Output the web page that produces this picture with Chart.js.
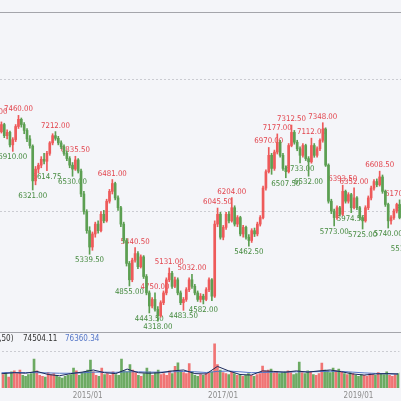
<!DOCTYPE html>
<html>
<head>
  <meta charset="utf-8">
  <title>Price and volume</title>
  <script src="https://cdn.jsdelivr.net/npm/chart.js@4"></script>
  <style>
    html, body {
      margin: 0;
      padding: 0;
      background-color: #f4f5f9;
    }

    #wrap {
      position: relative;
      width: 401px;
      height: 401px;
      overflow: hidden;
    }

    #priceChart {
      position: absolute;
      left: 0;
      top: 0;
    }

    #volumeChart {
      position: absolute;
      left: 0;
      top: 332px;
    }
  </style>
</head>
<body>
  <div id="wrap">
    <canvas id="priceChart" width="401" height="332"></canvas>
    <canvas id="volumeChart" width="401" height="69"></canvas>
  </div>

  <script>
    // half-month candles
    const dates = [
      '2013/08/01', '2013/08/16', '2013/09/01', '2013/09/16', '2013/10/01', '2013/10/16', '2013/11/01', '2013/11/16', '2013/12/01', '2013/12/16',
      '2014/01/01', '2014/01/16', '2014/02/01', '2014/02/16', '2014/03/01', '2014/03/16', '2014/04/01', '2014/04/16', '2014/05/01', '2014/05/16', '2014/06/01', '2014/06/16',
      '2014/07/01', '2014/07/16', '2014/08/01', '2014/08/16', '2014/09/01', '2014/09/16', '2014/10/01', '2014/10/16', '2014/11/01', '2014/11/16', '2014/12/01', '2014/12/16',
      '2015/01/01', '2015/01/16', '2015/02/01', '2015/02/16', '2015/03/01', '2015/03/16', '2015/04/01', '2015/04/16', '2015/05/01', '2015/05/16', '2015/06/01', '2015/06/16',
      '2015/07/01', '2015/07/16', '2015/08/01', '2015/08/16', '2015/09/01', '2015/09/16', '2015/10/01', '2015/10/16', '2015/11/01', '2015/11/16', '2015/12/01', '2015/12/16',
      '2016/01/01', '2016/01/16', '2016/02/01', '2016/02/16', '2016/03/01', '2016/03/16', '2016/04/01', '2016/04/16', '2016/05/01', '2016/05/16', '2016/06/01', '2016/06/16',
      '2016/07/01', '2016/07/16', '2016/08/01', '2016/08/16', '2016/09/01', '2016/09/16', '2016/10/01', '2016/10/16', '2016/11/01', '2016/11/16', '2016/12/01', '2016/12/16',
      '2017/01/01', '2017/01/16', '2017/02/01', '2017/02/16', '2017/03/01', '2017/03/16', '2017/04/01', '2017/04/16', '2017/05/01', '2017/05/16', '2017/06/01', '2017/06/16',
      '2017/07/01', '2017/07/16', '2017/08/01', '2017/08/16', '2017/09/01', '2017/09/16', '2017/10/01', '2017/10/16', '2017/11/01', '2017/11/16', '2017/12/01', '2017/12/16',
      '2018/01/01', '2018/01/16', '2018/02/01', '2018/02/16', '2018/03/01', '2018/03/16', '2018/04/01', '2018/04/16', '2018/05/01', '2018/05/16', '2018/06/01', '2018/06/16',
      '2018/07/01', '2018/07/16', '2018/08/01', '2018/08/16', '2018/09/01', '2018/09/16', '2018/10/01', '2018/10/16', '2018/11/01', '2018/11/16', '2018/12/01', '2018/12/16',
      '2019/01/01', '2019/01/16', '2019/02/01', '2019/02/16', '2019/03/01', '2019/03/16', '2019/04/01', '2019/04/16', '2019/05/01', '2019/05/16', '2019/06/01', '2019/06/16',
      '2019/07/01', '2019/07/16', '2019/08/01', '2019/08/16', '2019/09/01', '2019/09/16', '2019/10/01'
    ];

    const opens = [
      7260, 7300, 7350, 7280, 7210, 7320, 7150, 7200, 7010, 7090,
      7290, 7400, 7320, 7230, 7100, 6990, 6460, 6640, 6700, 6790, 6760, 6880, 7040, 7150, 7110, 7040, 6980, 6880, 6800, 6700, 6640, 6780, 6610, 6260,
      5990, 5700, 5450, 5650, 5800, 5700, 5950, 5850, 6150, 6300, 6420, 6200, 6050, 5800, 5550, 5200, 4950, 5250, 5350, 5150, 5300, 5000, 4750, 4550,
      4650, 4500, 4400, 4600, 4750, 4950, 5050, 4850, 4950, 4750, 4600, 4650, 4800, 4950, 4850, 4750, 4650, 4700, 4650, 4800, 4950, 4700, 5800, 5950,
      5600, 5750, 5950, 5850, 6050, 5800, 5900, 5650, 5750, 5600, 5550, 5700, 5650, 5800, 5900, 6350, 6600, 6850, 6650, 6900, 7050, 6850, 6650, 6600,
      7000, 7200, 7050, 6950, 6850, 7000, 6800, 6750, 7000, 6850, 6950, 7080, 7250, 6700, 6150, 6000, 5900, 6050, 5950, 6300, 6150, 6250, 6050, 6200,
      6050, 5900, 5850, 6050, 6200, 6350, 6450, 6400, 6520, 6300, 6100, 5850, 5900, 6000, 6100, 5900, 5650, 5700, 5850
    ];
    const highs = [
      7330, 7418, 7380, 7310, 7360, 7340, 7240, 7220, 7120, 7320,
      7460, 7420, 7350, 7260, 7150, 7010, 6680, 6730, 6830, 6880, 6910, 7060, 7180, 7212, 7140, 7070, 7010, 6920, 6830, 6740, 6835.5, 6800, 6640, 6300,
      6020, 5760, 5680, 5830, 5850, 5990, 6010, 6180, 6330, 6481, 6440, 6230, 6070, 5830, 5580, 5230, 5280, 5440.5, 5380, 5330, 5320, 5030, 4780, 4680,
      4750, 4540, 4630, 4780, 4980, 5131, 5080, 4990, 4980, 4780, 4680, 4830, 4980, 5032, 4880, 4780, 4740, 4730, 4830, 4980, 4970, 5850, 6045.5, 5980,
      5780, 5980, 5990, 6204, 6080, 5930, 5920, 5780, 5770, 5640, 5730, 5740, 5830, 5930, 6380, 6630, 6970, 6880, 6930, 7177, 7080, 6880, 6690, 7030,
      7312.5, 7230, 7080, 6980, 7030, 7020, 6830, 7112, 7030, 6980, 7100, 7348, 7270, 6720, 6180, 6030, 6080, 6070, 6393.5, 6320, 6280, 6270, 6352, 6220,
      6070, 5930, 6080, 6230, 6380, 6480, 6490, 6608.5, 6550, 6320, 6120, 5930, 6030, 6120, 6170, 5920, 5720, 5870, 5940
    ];
    const lows = [
      7220, 7260, 7250, 7180, 7190, 7120, 7100, 6980, 6910, 7060,
      7260, 7280, 7180, 7060, 6960, 6321, 6400, 6580, 6660, 6720, 6614.75, 6850, 7010, 7080, 7010, 6950, 6850, 6770, 6660, 6530, 6620, 6580, 6220, 5950,
      5660, 5339.5, 5400, 5600, 5660, 5680, 5820, 5830, 6120, 6260, 6170, 6010, 5760, 5510, 5160, 4855, 4920, 5220, 5120, 5130, 4970, 4720, 4443.5, 4520,
      4470, 4318, 4380, 4570, 4720, 4920, 4820, 4830, 4720, 4570, 4483.5, 4620, 4770, 4820, 4720, 4620, 4610, 4582, 4630, 4770, 4630, 4680, 5760, 5570,
      5560, 5720, 5820, 5830, 5770, 5760, 5620, 5600, 5570, 5462.5, 5520, 5610, 5620, 5770, 5880, 6320, 6580, 6560, 6620, 6870, 6820, 6620, 6507.5, 6580,
      6980, 7020, 6920, 6733, 6820, 6770, 6532, 6730, 6820, 6820, 6920, 7050, 6680, 6120, 5960, 5773, 5870, 5920, 5930, 6120, 6120, 5974.5, 6030, 6020,
      5870, 5725, 5830, 6020, 6170, 6320, 6370, 6380, 6270, 6070, 5740, 5800, 5870, 5970, 5880, 5620, 5510, 5680, 5770
    ];
    const closes = [
      7300, 7350, 7280, 7210, 7320, 7150, 7200, 7010, 7090, 7290,
      7400, 7320, 7230, 7100, 7000, 6460, 6640, 6700, 6790, 6760, 6880, 7040, 7150, 7110, 7040, 6980, 6880, 6800, 6700, 6640, 6780, 6610, 6260, 5990,
      5700, 5450, 5650, 5800, 5700, 5950, 5850, 6150, 6300, 6420, 6200, 6050, 5800, 5550, 5200, 4950, 5250, 5350, 5150, 5300, 5000, 4750, 4550, 4650,
      4500, 4400, 4600, 4750, 4950, 5050, 4850, 4950, 4750, 4600, 4650, 4800, 4950, 4850, 4750, 4650, 4700, 4650, 4800, 4950, 4700, 5800, 5950, 5600,
      5750, 5950, 5850, 6050, 5800, 5900, 5650, 5750, 5600, 5550, 5700, 5650, 5800, 5900, 6350, 6600, 6850, 6650, 6900, 7050, 6850, 6650, 6600, 7000,
      7200, 7050, 6950, 6850, 7000, 6800, 6750, 7000, 6850, 6950, 7080, 7250, 6700, 6150, 6000, 5900, 6050, 5950, 6300, 6150, 6250, 6050, 6200, 6050,
      5900, 5850, 6050, 6200, 6350, 6450, 6400, 6520, 6300, 6100, 5850, 5900, 6000, 6100, 5900, 5650, 5700, 5850, 5800
    ];
    const volumes = [
      75000, 70000, 65000, 80000, 75000, 85000, 60000, 90000, 95000, 80000,
      100000, 70000, 65000, 75000, 80000, 160000, 95000, 70000, 65000, 60000, 85000, 75000, 80000, 70000, 60000, 55000, 65000, 70000, 75000, 110000, 95000, 70000, 85000, 90000,
      100000, 155000, 90000, 70000, 65000, 110000, 75000, 80000, 70000, 90000, 75000, 70000, 160000, 95000, 90000, 130000, 100000, 85000, 70000, 65000, 80000, 110000, 90000, 70000,
      85000, 100000, 75000, 80000, 70000, 95000, 80000, 120000, 140000, 90000, 85000, 80000, 135000, 90000, 70000, 65000, 75000, 70000, 80000, 85000, 90000, 245000, 130000, 100000,
      85000, 80000, 75000, 90000, 80000, 70000, 75000, 65000, 70000, 80000, 70000, 65000, 75000, 80000, 122000, 95000, 100000, 105000, 85000, 90000, 80000, 85000, 90000, 95000,
      85000, 75000, 80000, 144000, 85000, 80000, 95000, 90000, 75000, 70000, 80000, 139000, 100000, 95000, 85000, 110000, 95000, 105000, 90000, 80000, 75000, 85000, 80000, 70000,
      65000, 75000, 70000, 65000, 80000, 75000, 70000, 85000, 80000, 75000, 90000, 70000, 65000, 75000, 80000, 85000, 90000, 70000, 75000
    ];

    // marked extremes
    const highMarks = [
      '2013/08/16', '2014/01/01', '2014/07/16', '2014/11/01', '2015/05/16', '2015/09/16', '2016/01/01', '2016/03/16',
      '2016/07/16', '2016/12/01', '2017/02/16', '2017/09/01', '2017/10/16', '2018/01/01', '2018/04/16', '2018/06/16',
      '2018/10/01', '2018/12/01', '2019/04/16', '2019/08/01', '2019/10/01'
    ];
    const lowMarks = [
      '2013/12/01', '2014/03/16', '2014/06/01', '2014/10/16', '2015/01/16', '2015/08/16', '2015/12/01', '2016/01/16',
      '2016/06/01', '2016/09/16', '2017/05/16', '2017/12/01', '2018/02/16', '2018/04/01', '2018/08/16', '2018/11/16',
      '2019/01/16', '2019/06/01', '2019/09/01'
    ];

    // volume averages
    const maDates = [
      '2013/08/01', '2013/10/01', '2013/12/01',
      '2014/02/01', '2014/04/01', '2014/06/01', '2014/08/01', '2014/10/01', '2014/12/01',
      '2015/02/01', '2015/04/01', '2015/06/01', '2015/08/01', '2015/10/01', '2015/12/01',
      '2016/02/01', '2016/04/01', '2016/06/01', '2016/08/01', '2016/10/01', '2016/12/01',
      '2017/02/01', '2017/04/01', '2017/06/01', '2017/08/01', '2017/10/01', '2017/12/01',
      '2018/02/01', '2018/04/01', '2018/06/01', '2018/08/01', '2018/10/01', '2018/12/01',
      '2019/02/01', '2019/04/01', '2019/06/01', '2019/08/01', '2019/10/01'
    ];
    const maShort = [
      78000, 80000, 85000,
      82000, 92000, 75000, 68000, 80000, 88000,
      100000, 85000, 80000, 105000, 85000, 82000,
      85000, 95000, 100000, 80000, 78000, 120000,
      95000, 75000, 72000, 95000, 92000, 88000,
      95000, 88000, 95000, 100000, 90000, 78000,
      72000, 78000, 80000, 78000, 74504.11
    ];
    const maLong = [
      85000, 85000, 86000,
      86000, 85000, 84000, 82000, 82000, 84000,
      88000, 88000, 87000, 90000, 90000, 88000,
      88000, 90000, 92000, 90000, 86000, 92000,
      94000, 90000, 85000, 86000, 88000, 88000,
      90000, 90000, 91000, 93000, 92000, 88000,
      84000, 81000, 79000, 77000, 76360.34
    ];
    const volumeTitle = 'VOL(10,50)';

    const tickLabels = ['2015/01', '2017/01', '2019/01'];
    const priceGrid = [6000, 8000];
    const volumeGrid = [200000];
    const firstShown = '2013/10/01';
    const lastShown = '2019/08/01';

    const UP = '#ee5a5a';
    const DOWN = '#5c9f52';
    const candleColors = dates.map((d, i) => closes[i] >= opens[i] ? UP : DOWN);
    const volumeColors = dates.map((d, i) => closes[i] >= opens[i] ? '#f07474' : '#6caa62');
    const FONT = "'DejaVu Sans Condensed', 'DejaVu Sans', sans-serif";

    Chart.defaults.font.family = FONT;
    Chart.defaults.font.size = 7.5;

    const zeroWidth = (scale) => { scale.width = 0; };

    // labels drawn under the candles
    const markPlugin = {
      id: 'marks',
      beforeDatasetsDraw(chart) {
        const { ctx, scales: { x, y } } = chart;
        ctx.save();
        ctx.font = '7.8px ' + FONT;
        ctx.textAlign = 'center';
        ctx.textBaseline = 'middle';
        highMarks.forEach((d) => {
          const i = dates.indexOf(d);
          ctx.fillStyle = '#e2434c';
          ctx.fillText(highs[i].toFixed(2), x.getPixelForValue(i), y.getPixelForValue(highs[i]) - 6);
        });
        lowMarks.forEach((d) => {
          const i = dates.indexOf(d);
          ctx.fillStyle = '#43893d';
          ctx.fillText(lows[i].toFixed(2), x.getPixelForValue(i), y.getPixelForValue(lows[i]) + 6);
        });
        ctx.restore();
      },
    };

    const topLine = {
      id: 'topLine',
      afterDraw(chart) {
        const { ctx, chartArea } = chart;
        ctx.save();
        ctx.strokeStyle = '#a4a5ab';
        ctx.lineWidth = 1;
        ctx.beginPath();
        ctx.moveTo(0, chartArea.top + 0.5);
        ctx.lineTo(chart.width, chartArea.top + 0.5);
        ctx.stroke();
        ctx.restore();
      },
    };

    const volumeHeader = {
      id: 'volumeHeader',
      afterDraw(chart) {
        const ctx = chart.ctx;
        ctx.save();
        ctx.font = '8px ' + FONT;
        ctx.textBaseline = 'middle';
        ctx.fillStyle = '#333333';
        ctx.textAlign = 'right';
        ctx.fillText(volumeTitle, 13.5, 7);
        ctx.textAlign = 'left';
        ctx.fillText(maShort[maShort.length - 1].toFixed(2), 23, 7);
        ctx.fillStyle = '#5577c8';
        ctx.fillText(maLong[maLong.length - 1].toFixed(2), 65, 7);
        ctx.restore();
      },
    };

    new Chart(document.getElementById('priceChart'), {
      type: 'bar',
      data: {
        labels: dates,
        datasets: [
          {
            data: dates.map((d, i) => [lows[i], highs[i]]),
            backgroundColor: candleColors,
            barThickness: 1,
            grouped: false,
            order: 2,
          },
          {
            data: dates.map((d, i) => [opens[i], closes[i]]),
            backgroundColor: candleColors,
            barThickness: 2,
            grouped: false,
            order: 1,
          },
        ],
      },
      options: {
        responsive: false,
        animation: false,
        layout: { padding: { top: 12, left: 0, right: 0, bottom: 0 } },
        plugins: { legend: { display: false }, tooltip: { enabled: false } },
        scales: {
          x: { display: false, min: firstShown, max: lastShown },
          y: {
            min: 4153,
            max: 9038,
            afterBuildTicks: (scale) => { scale.ticks = priceGrid.map((v) => ({ value: v })); },
            afterFit: zeroWidth,
            ticks: { display: false },
            grid: { drawTicks: false, color: '#cbccd2' },
            border: { display: false, dash: [2, 2] },
          },
        },
      },
      plugins: [markPlugin, topLine],
    });

    new Chart(document.getElementById('volumeChart'), {
      type: 'bar',
      data: {
        labels: dates,
        datasets: [
          {
            type: 'line',
            data: maDates.map((d, i) => ({ x: d, y: maShort[i] })),
            borderColor: '#1c2a5c',
            borderWidth: 1,
            pointRadius: 0,
            order: 0,
          },
          {
            type: 'line',
            data: maDates.map((d, i) => ({ x: d, y: maLong[i] })),
            borderColor: '#5577c8',
            borderWidth: 1,
            pointRadius: 0,
            order: 1,
          },
          {
            data: volumes,
            backgroundColor: volumeColors,
            barThickness: 2,
            order: 2,
          },
        ],
      },
      options: {
        responsive: false,
        animation: false,
        layout: { padding: 0 },
        plugins: { legend: { display: false }, tooltip: { enabled: false } },
        scales: {
          x: {
            min: firstShown,
            max: lastShown,
            afterFit: (scale) => { scale.height = 13; },
            grid: { display: false, drawTicks: false },
            border: { display: false },
            ticks: {
              autoSkip: false,
              maxRotation: 0,
              padding: 3,
              color: '#8c8c8c',
              font: { size: 8 },
              callback(value) {
                const label = this.getLabelForValue(value);
                const month = label.slice(0, 7);
                return label.endsWith('/01') && tickLabels.includes(month) ? month : '';
              },
            },
          },
          y: {
            min: 0,
            max: 311000,
            afterBuildTicks: (scale) => { scale.ticks = volumeGrid.map((v) => ({ value: v })); },
            afterFit: zeroWidth,
            ticks: { display: false },
            grid: { drawTicks: false, color: '#cbccd2' },
            border: { display: false, dash: [2, 2] },
          },
        },
      },
      plugins: [topLine, volumeHeader],
    });
  </script>
</body>
</html>
